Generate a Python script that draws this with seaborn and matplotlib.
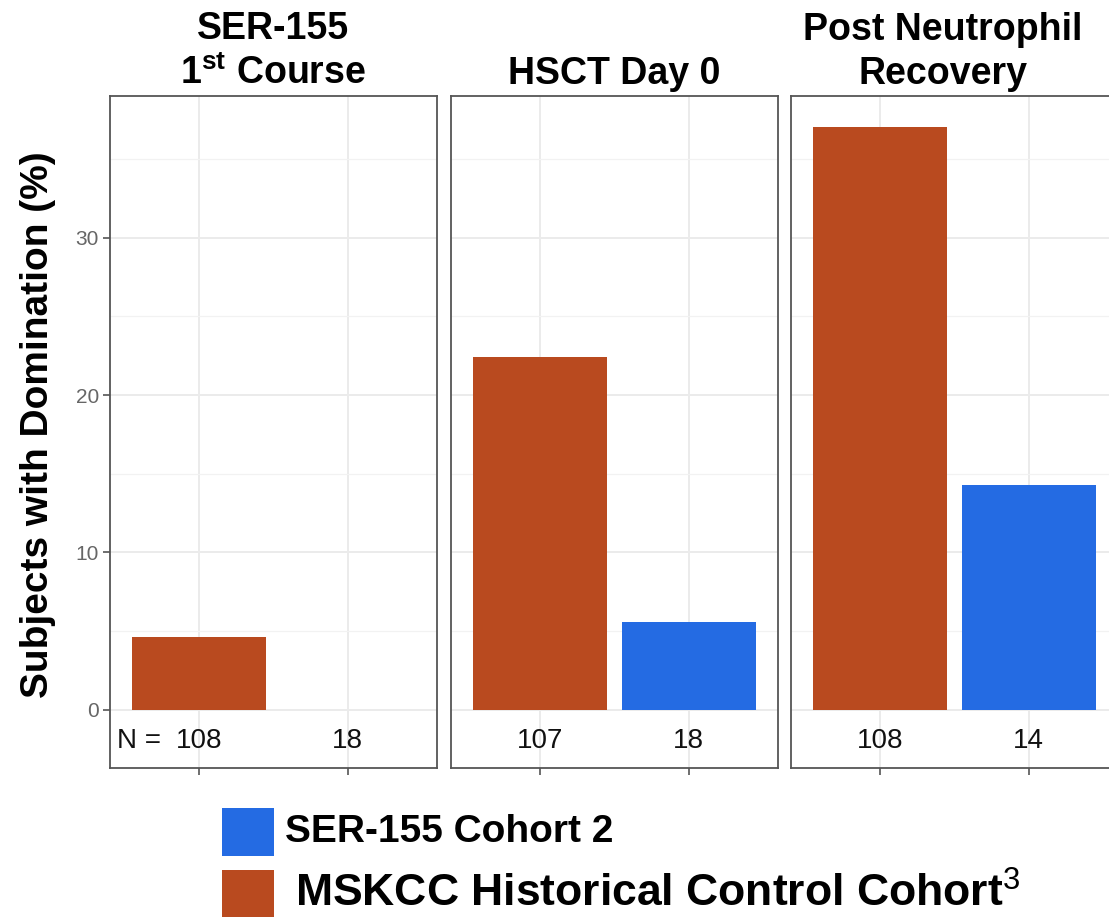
import numpy as np
import pandas as pd
import matplotlib
matplotlib.use("Agg")
import matplotlib.pyplot as plt
from matplotlib.patches import Rectangle
from matplotlib.ticker import MultipleLocator
import seaborn as sns

# ---- data ----
timepoints = ["SER-155\n1$^{\\mathbf{st}}$ Course", "HSCT Day 0", "Post Neutrophil\nRecovery"]
cohorts = ["MSKCC", "SER-155"]
mskcc_pct = [4.63, 22.43, 37.04]
ser155_pct = [0.0, 5.56, 14.29]
mskcc_n = [108, 107, 108]
ser155_n = [18, 18, 14]
legend_labels = ["SER-155 Cohort 2", "MSKCC Historical Control Cohort$^{3}$"]
y_ticks = [0, 10, 20, 30]

colors = {"MSKCC": "#B94A1F", "SER-155": "#246BE3"}

sns.set_theme(style="white")
plt.rcParams["font.family"] = ["Liberation Sans", "DejaVu Sans"]
plt.rcParams["mathtext.fontset"] = "custom"
plt.rcParams["mathtext.rm"] = "Liberation Sans"
plt.rcParams["mathtext.bf"] = "Liberation Sans:bold"
plt.rcParams["text.color"] = "black"

W, H = 1109, 917
fig = plt.figure(figsize=(W / 100, H / 100), dpi=100)

top_px, bot_px = 96, 768
lefts_px = [110, 451, 791]
pw = 327
ymin, ymax = -3.7, 39.0

axes = []
for i, lp in enumerate(lefts_px):
    ax = fig.add_axes([lp / W, 1 - bot_px / H, pw / W, (bot_px - top_px) / H])
    axes.append(ax)
    df = pd.DataFrame({"cohort": cohorts, "pct": [mskcc_pct[i], ser155_pct[i]]})
    sns.barplot(data=df, x="cohort", y="pct", hue="cohort", order=cohorts,
                hue_order=cohorts, palette=colors, width=0.9, legend=False,
                ax=ax, zorder=3, saturation=1, linewidth=0)
    ax.set_xlim(-0.6, 1.6)
    ax.set_ylim(ymin, ymax)
    ax.yaxis.set_major_locator(MultipleLocator(10))
    ax.yaxis.set_minor_locator(MultipleLocator(5))
    ax.set_yticks(y_ticks)
    ax.grid(True, which="major", color="#EBEBEB", lw=1.4, zorder=0)
    ax.grid(True, which="minor", axis="y", color="#F2F2F2", lw=0.9, zorder=0)
    ax.set_axisbelow(True)
    ax.set_xlabel("")
    ax.set_ylabel("")
    ax.set_xticks([0, 1])
    ax.set_xticklabels([])
    ax.tick_params(axis="x", which="both", length=5, width=1.2, color="#555555", bottom=True)
    ax.tick_params(axis="y", which="minor", length=0)
    if i == 0:
        ax.tick_params(axis="y", which="major", length=5, width=1.2, color="#555555",
                       labelsize=15, labelcolor="#666666", pad=3, left=True)
    else:
        ax.tick_params(axis="y", which="major", length=0, labelleft=False)
    for s in ax.spines.values():
        s.set_color("#555555")
        s.set_linewidth(1.3)
    # N labels
    ax.text(0, -1.97, str(mskcc_n[i]), ha="center", va="center", fontsize=20, color="#111111")
    ax.text(1, -1.97, str(ser155_n[i]), ha="center", va="center", fontsize=20, color="#111111")
    if i == 0:
        ax.text(-0.553, -1.97, "N =", ha="left", va="center", fontsize=20, color="#111111")
    t = ax.set_title(timepoints[i], fontsize=27, fontweight="bold", pad=9,
                     linespacing=1.25, color="black")
    if i == 2:
        t.set_x(0.465)

fig.text(38 / W, 1 - 425 / H, "Subjects with Domination (%)", rotation=90,
         ha="center", va="center", fontsize=28, fontweight="bold")

# legend
leg_colors = [colors["SER-155"], colors["MSKCC"]]
leg_y = [808, 870]
text_x = [285, 295]
text_size = [28, 32]
for c, yy, lab, tx, fs in zip(leg_colors, leg_y, legend_labels, text_x, text_size):
    fig.patches.append(Rectangle((222 / W, 1 - (yy + 48) / H), 52 / W, 48 / H,
                                 transform=fig.transFigure, facecolor=c, edgecolor="none"))
    fig.text(tx / W, 1 - (yy + 24) / H, lab, ha="left", va="center",
             fontsize=fs, fontweight="bold")

fig.savefig("out.png", dpi=100)
